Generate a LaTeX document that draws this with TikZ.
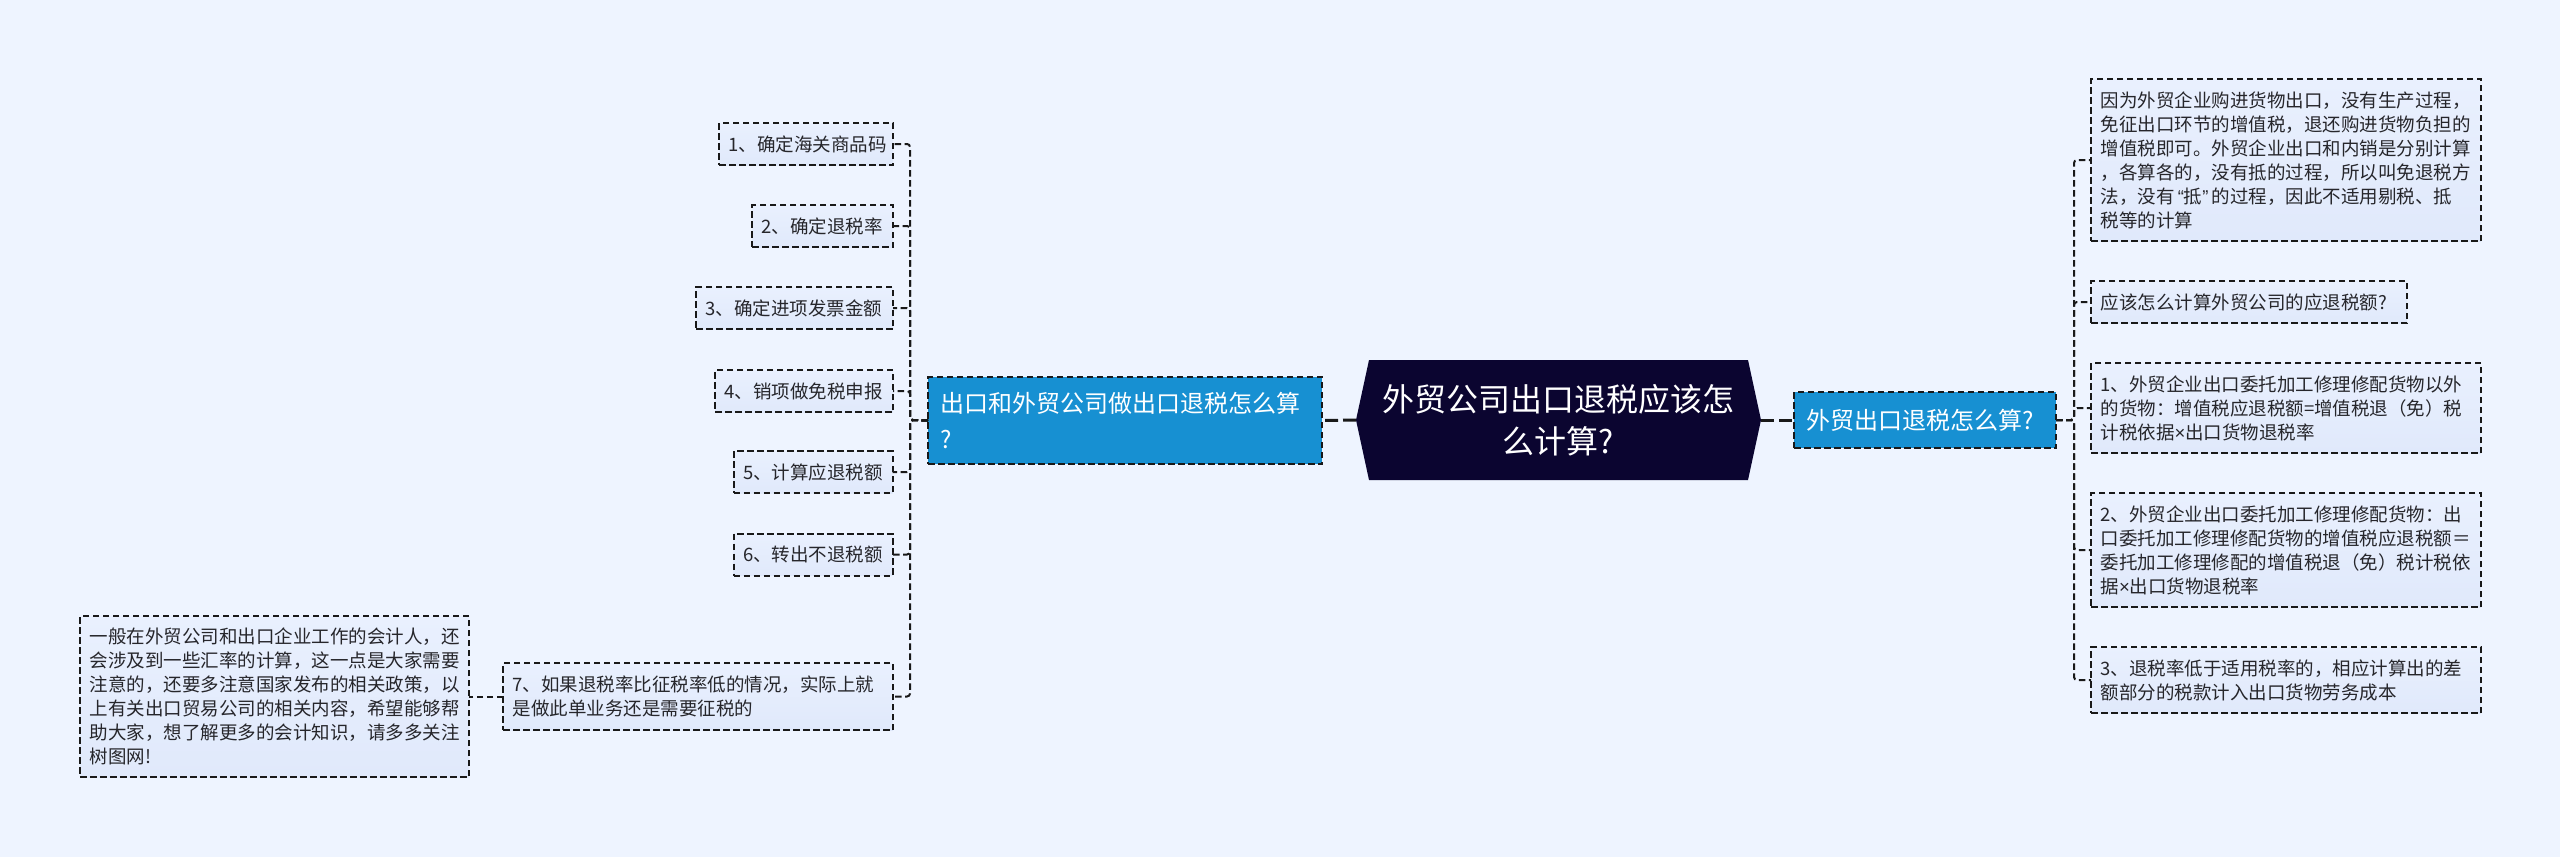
\documentclass[tikz,border=0pt]{standalone}
\usepackage{fontspec}
\setmainfont{Noto Sans CJK SC}
\newfontfamily\narrowfont{Liberation Sans}
\newcommand{\zhc}{\char"FF0C\relax}
\newcommand{\zhk}{\char"FF1A\relax}
\newcommand{\zhl}{\char"FF08\relax}
\newcommand{\zhr}{\char"FF09\relax}
\newcommand{\zhe}{\char"FF1D\relax}
\definecolor{bgc}{HTML}{EEF4FF}
\definecolor{leaftop}{HTML}{E9F0FE}
\definecolor{leafbot}{HTML}{E0E9FB}
\definecolor{branchfill}{HTML}{1790D2}
\definecolor{rootfill}{HTML}{0B0530}
\definecolor{inkc}{HTML}{26262B}
\tikzset{
  x=1pt,y=-1pt,
  leafbox/.style={draw=black!90,line width=2pt,dash pattern=on 6.5pt off 3.5pt,top color=leaftop,bottom color=leafbot,text=inkc,anchor=north west,
    inner xsep=9.5pt,inner ysep=0pt,outer sep=0pt,align=left,font=\fontsize{18.5}{24}\selectfont},
  branchbox/.style={draw=black!90,line width=2pt,dash pattern=on 6.5pt off 3.5pt,fill=branchfill,text=white,anchor=north west,
    inner xsep=12pt,inner ysep=0pt,outer sep=0pt,align=left,font=\fontsize{24}{36}\selectfont},
  rootbox/.style={text=white,inner sep=0pt,outer sep=0pt,align=center,font=\fontsize{32}{42}\selectfont},
  link/.style={draw=black!90,line width=2pt,dash pattern=on 6.5pt off 3.5pt,rounded corners=3pt},
  mainlink/.style={draw=black!90,line width=3pt,dash pattern=on 13pt off 5pt},
}
\begin{document}
\begin{tikzpicture}
\useasboundingbox (0,0) rectangle (2560,857);
\fill[bgc] (0,0) rectangle (2560,857);
% root
\fill[rootfill] (1356,420)--(1369,360)--(1748,360)--(1761,420)--(1748,480)--(1369,480)--cycle;
\node[rootbox,minimum width=405pt,minimum height=120pt] (root) at (1558.5,420) {外贸公司出口退税应该怎\\么计算?};
% branches
\node[branchbox,text width=238pt,minimum height=56pt] (rb) at (1794,392) {外贸出口退税怎么算?};
\node[branchbox,text width=370pt,minimum height=87pt] (lb) at (928,377) {出口和外贸公司做出口退税怎么算\\?};
\coordinate (rt) at (2074,420);
\coordinate (lt) at (910,420);
% right leaves
\node[leafbox,text width=371pt,minimum height=162pt] (a) at (2091,79) {因为外贸企业购进货物出口\zhc{}没有生产过程\zhc{}\\免征出口环节的增值税\zhc{}退还购进货物负担的\\增值税即可。外贸企业出口和内销是分别计算\\\zhc{}各算各的\zhc{}没有抵的过程\zhc{}所以叫免退税方\\法\zhc{}没有\kern3.3pt{\narrowfont “}抵{\narrowfont ”}\kern3.3pt{}的过程\zhc{}因此不适用剔税、抵\\税等的计算};
\node[leafbox,text width=297pt,minimum height=42pt] (b) at (2091,281) {应该怎么计算外贸公司的应退税额?};
\node[leafbox,text width=371pt,minimum height=90pt] (c) at (2091,363) {1、外贸企业出口委托加工修理修配货物以外\\的货物\zhk{}增值税应退税额=增值税退\zhl{}免\zhr{}税\\计税依据{\narrowfont ×}出口货物退税率};
\node[leafbox,text width=371pt,minimum height=114pt] (d) at (2091,493) {2、外贸企业出口委托加工修理修配货物\zhk{}出\\口委托加工修理修配货物的增值税应退税额\zhe{}\\委托加工修理修配的增值税退\zhl{}免\zhr{}税计税依\\据{\narrowfont ×}出口货物退税率};
\node[leafbox,text width=371pt,minimum height=66pt] (e) at (2091,647) {3、退税率低于适用税率的\zhc{}相应计算出的差\\额部分的税款计入出口货物劳务成本};
% left leaves
\node[leafbox,text width=155pt,minimum height=42pt] (l1) at (719,123) {1、确定海关商品码};
\node[leafbox,text width=122pt,minimum height=42pt] (l2) at (752,205) {2、确定退税率};
\node[leafbox,text width=178pt,minimum height=42pt] (l3) at (696,287) {3、确定进项发票金额};
\node[leafbox,text width=159pt,minimum height=42pt] (l4) at (715,370) {4、销项做免税申报};
\node[leafbox,text width=140pt,minimum height=42pt] (l5) at (733.5,451) {5、计算应退税额};
\node[leafbox,text width=140pt,minimum height=42pt] (l6) at (733.5,533.5) {6、转出不退税额};
\node[leafbox,text width=371pt,minimum height=67pt] (l7) at (503,663) {7、如果退税率比征税率低的情况\zhc{}实际上就\\是做此单业务还是需要征税的};
\node[leafbox,text width=370pt,minimum height=161pt] (l8) at (80,616) {一般在外贸公司和出口企业工作的会计人\zhc{}还\\会涉及到一些汇率的计算\zhc{}这一点是大家需要\\注意的\zhc{}还要多注意国家发布的相关政策\zhc{}以\\上有关出口贸易公司的相关内容\zhc{}希望能够帮\\助大家\zhc{}想了解更多的会计知识\zhc{}请多多关注\\树图网!};
% connectors
\draw[mainlink] (root.east) -- (rb.west);
\draw[mainlink] (root.west) -- (lb.east);
\foreach \n in {a,b,c,d,e} \draw[link] (rb.east) -- (rt) |- (\n.west);
\foreach \n in {l1,l2,l3,l4,l5,l6,l7} \draw[link] (lb.west) -- (lt) |- (\n.east);
\draw[link] (l7.west) -- (l7.west -| l8.east);
\end{tikzpicture}
\end{document}
